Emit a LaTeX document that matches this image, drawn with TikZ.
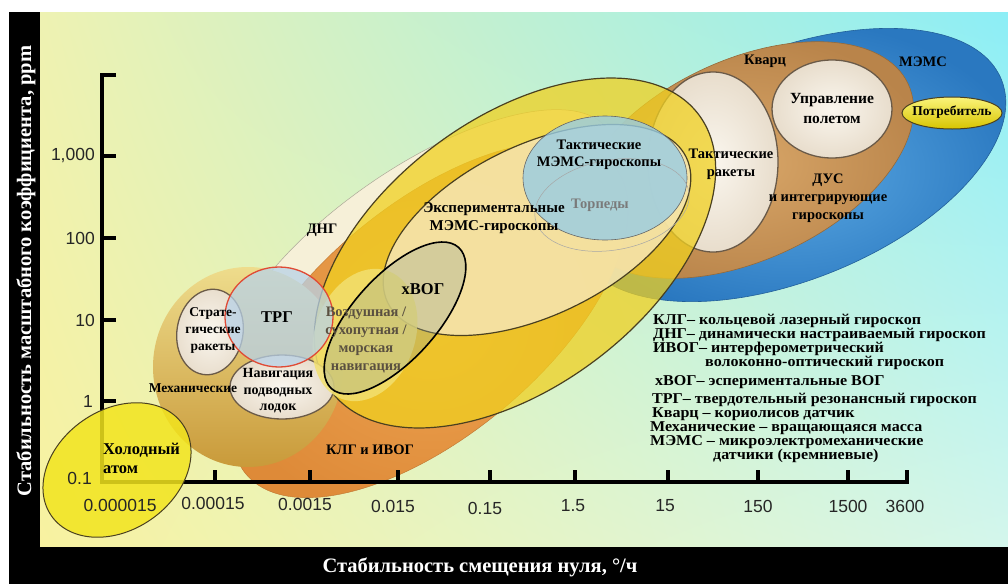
\documentclass[tikz,border=0pt]{standalone}
\usepackage{fontspec}
\usetikzlibrary{shadings}
\setmainfont{Liberation Serif}
\setsansfont{Liberation Sans}
\newfontfamily\legfont{Liberation Serif}[FakeStretch=1.07]
\definecolor{bgUL}{HTML}{EEF2B2}
\definecolor{bgUR}{HTML}{8CEEF6}
\definecolor{bgLL}{HTML}{F8F2A0}
\definecolor{bgLR}{HTML}{D4F6EC}
\definecolor{memsIn}{HTML}{5AA8E2}
\definecolor{memsOut}{HTML}{2A78C0}
\definecolor{tanIn}{HTML}{D8A668}
\definecolor{tanOut}{HTML}{B9844A}
\definecolor{dngC}{HTML}{F6F0D8}
\definecolor{orIn}{HTML}{EDA452}
\definecolor{orOut}{HTML}{DE8A38}
\definecolor{mechT}{HTML}{EEDC8C}
\definecolor{mechB}{HTML}{C99A3A}
\definecolor{whIn}{HTML}{FAF6EE}
\definecolor{whOut}{HTML}{E8DDCC}
\definecolor{rimC}{HTML}{6A5A48}
\definecolor{yelC}{HTML}{F0D020}
\definecolor{paleY}{HTML}{F6E6B4}
\definecolor{outl}{HTML}{4A4020}
\definecolor{tacB}{HTML}{98CCE4}
\definecolor{trgB}{HTML}{B8D2E8}
\definecolor{trgR}{HTML}{E04A35}
\definecolor{vozY}{HTML}{F2E070}
\definecolor{xvogC}{HTML}{9AA894}
\definecolor{coldY}{HTML}{F2E41E}
\definecolor{potT}{HTML}{FAF47A}
\definecolor{potB}{HTML}{D8C400}
\definecolor{grayT}{HTML}{7A7A7A}
\definecolor{vozT}{HTML}{5A5040}
\tikzset{
  lbl/.style={font=\bfseries\fontsize{14.5}{18}\selectfont, align=center, inner sep=0pt, text=black},
  lblbig/.style={font=\bfseries\fontsize{16.5}{19}\selectfont, align=center, inner sep=0pt, text=black},
  lblsm/.style={font=\bfseries\fontsize{13.5}{17}\selectfont, align=center, inner sep=0pt, text=black},
  leg/.style={font=\legfont\bfseries\fontsize{15}{15}\selectfont, anchor=west, inner sep=0pt, text=black},
  tk/.style={font=\sffamily\fontsize{17.5}{18}\selectfont, text=black!85, inner sep=0pt},
  axisline/.style={line width=4.5pt, black, line join=miter},
  axtitle/.style={font=\bfseries\fontsize{20.5}{20.5}\selectfont, text=white, inner sep=0pt},
  whiteell/.style={draw=rimC, line width=1.3pt, inner color=whIn, outer color=whOut},
  darkline/.style={draw=outl, line width=1.2pt}
}
\begin{document}
\begin{tikzpicture}[x=1pt,y=-1pt]
\useasboundingbox (0,0) rectangle (1008,584);
\fill[white] (0,0) rectangle (1008,584);
\shade[upper left=bgUL, upper right=bgUR, lower left=bgLL, lower right=bgLR] (40,12) rectangle (1008,547);

% MEMS (blue)
\shadedraw[draw=memsOut!80!black, line width=0.6pt, inner color=memsIn, outer color=memsOut, rotate around={22:(790,165)}] (790,165) ellipse [x radius=228, y radius=115];
% Quartz (tan)
\shadedraw[draw=tanOut!80!black, line width=0.6pt, inner color=tanIn, outer color=tanOut, rotate around={25:(745,160)}] (745,160) ellipse [x radius=180, y radius=100];
% DNG (cream)
\filldraw[fill=dngC, draw=dngC!70!black, line width=0.5pt, rotate around={35:(420,262)}] (420,262) ellipse [x radius=230, y radius=93];
% KLG / IVOG (orange)
\shadedraw[draw=orOut!85!black, line width=0.4pt, inner color=orIn, outer color=orOut, rotate around={40:(430,320)}] (430,320) ellipse [x radius=240, y radius=115];
% Mechanical
\shade[top color=mechT, bottom color=mechB] (248,367) ellipse [x radius=95, y radius=100];
% Tactical rockets (white)
\shadedraw[whiteell] (713,162) ellipse [x radius=65, y radius=90];
% Flight control (white)
\shadedraw[whiteell] (832,109) ellipse [x radius=60, y radius=49];
% Consumer (yellow)
\shadedraw[draw=outl, line width=1pt, top color=potT, bottom color=potB] (952,113) ellipse [x radius=50, y radius=16];
% Big yellow ellipse
\filldraw[darkline, fill=yelC, fill opacity=0.75, rotate around={37:(515,253)}] (515,253) ellipse [x radius=230, y radius=134];
% Experimental MEMS (pale)
\filldraw[darkline, fill=paleY, fill opacity=0.85, rotate around={26:(537,230)}] (537,230) ellipse [x radius=166, y radius=85];
% Tactical MEMS (blue)
\filldraw[draw=gray!80!black, line width=0.6pt, fill=tacB, fill opacity=0.8] (605,178) ellipse [x radius=82, y radius=62];
% Torpedoes (faint)
\draw[gray!70, line width=0.5pt, rotate around={10:(612,205)}] (612,205) ellipse [x radius=78, y radius=45];
% Strategic rockets
\shadedraw[whiteell, rotate around={-10:(210,332)}] (210,332) ellipse [x radius=33, y radius=43];
% Submarine navigation
\shadedraw[whiteell] (282,387) ellipse [x radius=52, y radius=32];
% Air / land / sea navigation
\fill[vozY, fill opacity=0.85, rotate around={-20:(365,335)}] (365,335) ellipse [x radius=50, y radius=68];
% TRG
\filldraw[draw=trgR, line width=1.3pt, fill=trgB, fill opacity=0.75] (279,317) ellipse [x radius=54, y radius=50];
% xVOG
\filldraw[draw=black, line width=1.6pt, fill=xvogC, fill opacity=0.35, rotate around={48:(395,318)}] (395,318) ellipse [x radius=95, y radius=42];

% Axes
\draw[axisline] (116,75) -- (102,75) -- (102,482) -- (907,482) -- (907,470);
\foreach \yy in {156,238,320,401} { \draw[axisline] (102,\yy) -- (116,\yy); }
\foreach \xx in {215,310,398,490,575,668,758,848} { \draw[axisline] (\xx,482) -- (\xx,470); }

% Cold atom
\filldraw[draw=outl, line width=1pt, fill=coldY, fill opacity=0.85, rotate around={35:(117,470)}] (117,470) ellipse [x radius=80, y radius=60];

% Black frame bands
\fill[black] (9,12) rectangle (40,584);
\fill[black] (9,547) rectangle (1008,584);

% Axis titles
\node[axtitle, rotate=90] (ytitle) at (26,271) {Стабильность масштабного коэффициента, ppm};
\node[axtitle] (xtitle) at (480,567) {Стабильность смещения нуля, °/ч};

% Tick labels
\node[tk, anchor=east] (y1000) at (95,156) {1,000};
\node[tk, anchor=east] (y100) at (95,238) {100};
\node[tk, anchor=east] (y10) at (95,320) {10};
\node[tk, anchor=east] (y1) at (93,401) {1};
\node[tk, anchor=east] (y01) at (92,478) {0.1};
\node[tk] (x1) at (120,505) {0.000015};
\node[tk] (x2) at (213,503) {0.00015};
\node[tk] (x3) at (305,504) {0.0015};
\node[tk] (x4) at (393,506) {0.015};
\node[tk] (x5) at (485,508) {0.15};
\node[tk] (x6) at (573,506) {1.5};
\node[tk] (x7) at (665,506) {15};
\node[tk] (x8) at (758,506) {150};
\node[tk] (x9) at (848,506) {1500};
\node[tk] (x10) at (905,506) {3600};

% Labels in the diagram
\node[lbl] (kvarc) at (765,61) {Кварц};
\node[lbl] (mems) at (923,62) {МЭМС};
\node[lbl, font=\bfseries\fontsize{15.5}{20}\selectfont] (upr) at (832,108) {Управление\\полетом};
\node[lblsm] (potr) at (952,112) {Потребитель};
\node[lbl] (takr) at (731,164) {Тактические\\ракеты};
\node[lbl] (dus) at (828,198) {ДУС\\и интегрирующие\\гироскопы};
\node[lbl, font=\bfseries\fontsize{14.5}{16.5}\selectfont] (takm) at (599,155) {Тактические\\МЭМС-гироскопы};
\node[lbl, text=grayT] (torp) at (600,205) {Торпеды};
\node[lbl, font=\bfseries\fontsize{15}{18}\selectfont] (expm) at (494,218) {Экспериментальные\\МЭМС-гироскопы};
\node[lbl] (dng) at (322,230) {ДНГ};
\node[lblbig] (xvog) at (423,289) {хВОГ};
\node[lbl, text=vozT] (vozd) at (366,340) {Воздушная /\\сухопутная /\\морская\\навигация};
\node[lblbig] (trg) at (277,317) {ТРГ};
\node[lblsm] (strat) at (213,330) {Страте-\\гические\\ракеты};
\node[lbl, font=\bfseries\fontsize{14}{16.5}\selectfont] (nav) at (278,391) {Навигация\\подводных\\лодок};
\node[lblsm] (mech) at (193,388) {Механические};
\node[lbl] (klg) at (370,450) {КЛГ и ИВОГ};
\node[lblbig, align=left, anchor=west] (cold) at (103,458) {Холодный\\атом};

% Legend
\node[leg] (l1) at (653,321) {КЛГ– кольцевой лазерный гироскоп};
\node[leg] (l2) at (653,335) {ДНГ– динамически настраиваемый гироскоп};
\node[leg] (l3) at (653,349) {ИВОГ– интерферометрический};
\node[leg] (l3b) at (705,363) {волоконно-оптический гироскоп};
\node[leg] (l4) at (655,382) {хВОГ– эспериментальные ВОГ};
\node[leg] (l5) at (652,400) {ТРГ– твердотельный резонансный гироскоп};
\node[leg] (l6) at (652,414) {Кварц – кориолисов датчик};
\node[leg] (l7) at (650,428) {Механические – вращающаяся масса};
\node[leg] (l8) at (650,442) {МЭМС – микроэлектромеханические};
\node[leg] (l8b) at (713,456) {датчики (кремниевые)};
\end{tikzpicture}
\end{document}
